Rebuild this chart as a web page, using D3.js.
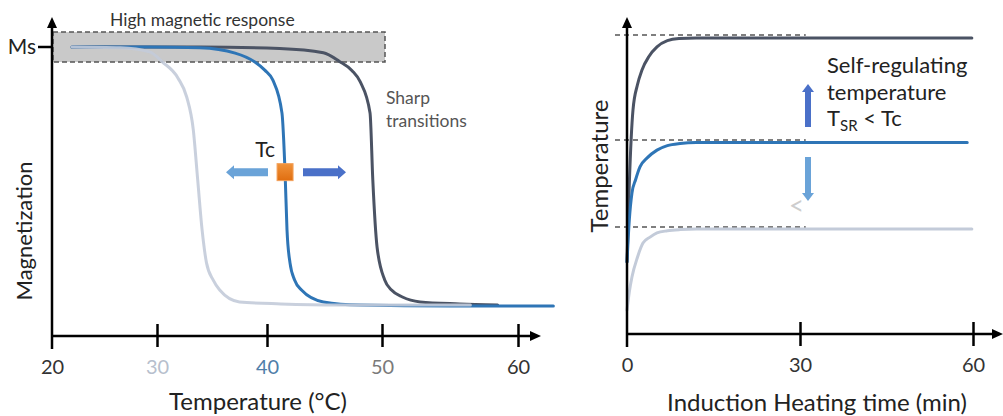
<!DOCTYPE html>
<html><head><meta charset="utf-8">
<script src="https://cdn.jsdelivr.net/npm/d3@7"></script>
<style>
html,body{margin:0;padding:0;background:#fff;}
svg text{font-family:Lato,"Open Sans",sans-serif;}
</style></head>
<body>
<svg id="c" width="1003" height="416"></svg>
<script>
// ---------- DATA ----------
const tempTicks = [20, 30, 40, 50, 60];
const timeTicks = [0, 30, 60];
// Magnetization (fraction of Ms) vs temperature (°C)
const magLow = [[21.9,1.000],[26.5,0.997],[29.3,0.983],[30.5,0.948],[31.9,0.893],[32.7,0.827],[33.3,0.713],[33.7,0.540],[34.1,0.367],[34.5,0.253],[35.1,0.194],[35.7,0.159],[37.5,0.118],[41.2,0.111],[46.3,0.107],[52.8,0.107],[56.5,0.107]];
const magMid = [[21.9,1.000],[29.3,1.000],[33.9,0.997],[37.1,0.979],[38.9,0.948],[39.8,0.920],[40.5,0.886],[41.3,0.772],[41.57,0.567],[41.74,0.367],[42.0,0.253],[42.4,0.194],[43.0,0.159],[44.9,0.118],[48.1,0.107],[55.0,0.104],[62.6,0.104]];
const magHigh = [[21.9,1.000],[33.9,1.000],[41.1,0.995],[44.9,0.980],[46.3,0.950],[47.4,0.918],[48.1,0.880],[48.96,0.772],[49.2,0.540],[49.57,0.308],[50.2,0.194],[50.7,0.159],[51.5,0.135],[52.8,0.118],[55.7,0.111],[58.5,0.107]];
const msLevel = 1.0;
const tcValue = [41.57, 0.567];
// Temperature (a.u.) vs induction heating time (min)
const heatHigh = [[0,24],[0.4,50],[1.04,74.7],[1.8,83],[2.6,88],[3.8,92.5],[5.2,95.7],[7,97.8],[9,98.5],[12,98.7],[59.8,98.7]];
const heatMid  = [[0,24],[0.4,38],[0.86,47],[1.5,51.5],[2.25,55.7],[3.5,58.7],[5.2,61.3],[7,62.8],[9.2,63.5],[12,63.8],[59,63.8]];
const heatLow  = [[0,8],[0.4,14],[0.86,19],[1.8,25.5],[2.77,30.3],[4,32.3],[5.2,33.7],[7,34.4],[9.2,34.8],[12,35],[59.8,35]];
const regLevels = [99.7, 64.7, 35.7];
const regLevelEnd = 31;

// ---------- STYLE ----------
const cLight = "#c3cbd9", cBlue = "#2e75b6", cDark = "#4b5364";
const tickColors = {20:"#333",30:"#b7bfcd",40:"#4f7ea9",50:"#7a7a7a",60:"#333"};

const svg = d3.select("#c");
const defs = svg.append("defs");
const gO = defs.append("linearGradient").attr("id","gO").attr("x1",0).attr("y1",0).attr("x2",0).attr("y2",1);
gO.append("stop").attr("offset",0).attr("stop-color","#f0923a");
gO.append("stop").attr("offset",1).attr("stop-color","#e06e10");

// ---------- LEFT CHART ----------
const xL = d3.scaleLinear().domain(tempTicks).range([52,157,267,382,518]);
const yL = d3.scaleLinear().domain([0,1]).range([336,47]);

svg.append("rect").attr("x",xL(20)+1).attr("y",32).attr("width",xL(50)+2-xL(20)).attr("height",30)
  .attr("fill","#c9c9c9").attr("stroke","#555").attr("stroke-width",1.5).attr("stroke-dasharray","5,3");
svg.append("text").attr("x",110).attr("y",26).attr("font-size",17.5).attr("fill","#333").text("High magnetic response");

const lineL = d3.line().x(d=>xL(d[0])).y(d=>yL(d[1])).curve(d3.curveMonotoneX);
[[magHigh,cDark,1],[magMid,cBlue,1],[magLow,cLight,0.9]].forEach(([d,c,o])=>{
  svg.append("path").datum(d).attr("d",lineL).attr("fill","none").attr("stroke",c)
    .attr("stroke-width",3).attr("stroke-opacity",o).attr("stroke-linecap","round");
});

const axL = svg.append("g").attr("transform",`translate(0,${yL(0)})`)
  .call(d3.axisBottom(xL).tickValues(tempTicks).tickSize(0).tickPadding(24));
axL.select(".domain").remove();
axL.selectAll(".tick text").attr("font-size",20).attr("font-family","Lato").attr("fill",d=>tickColors[d]);
axL.selectAll(".tick").filter(d=>d!==20).append("line").attr("y1",-12).attr("y2",11).attr("stroke","#000").attr("stroke-width",2.5);
svg.append("line").attr("x1",xL(20)).attr("x2",532).attr("y1",yL(0)).attr("y2",yL(0)).attr("stroke","#000").attr("stroke-width",2.5);
svg.append("path").attr("d",`M541,${yL(0)} L530,${yL(0)-5} L530,${yL(0)+5}Z`).attr("fill","#000");
svg.append("line").attr("x1",xL(20)).attr("x2",xL(20)).attr("y1",349).attr("y2",26).attr("stroke","#000").attr("stroke-width",2.5);
svg.append("path").attr("d",`M${xL(20)},17 L${xL(20)-5},28 L${xL(20)+5},28Z`).attr("fill","#000");
svg.append("line").attr("x1",xL(20)-14).attr("x2",xL(20)).attr("y1",yL(msLevel)).attr("y2",yL(msLevel)).attr("stroke","#000").attr("stroke-width",2.5);
svg.append("text").attr("x",36).attr("y",yL(msLevel)+7).attr("text-anchor","end").attr("font-size",21).attr("fill","#222").text("Ms");

svg.append("text").attr("transform",`translate(32,${231}) rotate(-90)`).attr("text-anchor","middle").attr("font-size",22).attr("fill","#222").text("Magnetization");
svg.append("text").attr("x",258).attr("y",410).attr("text-anchor","middle").attr("font-size",24).attr("fill","#222").text("Temperature (°C)");

svg.append("text").attr("x",386).attr("y",104).attr("font-size",17.5).attr("fill","#555").text("Sharp");
svg.append("text").attr("x",386).attr("y",127).attr("font-size",17.5).attr("fill","#555").text("transitions");

const tcx = xL(tcValue[0]), tcy = yL(tcValue[1]);
svg.append("text").attr("x",tcx-10).attr("y",tcy-15).attr("text-anchor","end").attr("font-size",21).attr("fill","#222").text("Tc");
function hArrow(x0,x1,y,color){
  const dir = Math.sign(x1-x0), hl=8, bw=4, hw=7;
  const xb = x1-dir*hl;
  svg.append("path").attr("d",`M${x0},${y-bw} L${xb},${y-bw} L${xb},${y-hw} L${x1},${y} L${xb},${y+hw} L${xb},${y+bw} L${x0},${y+bw}Z`).attr("fill",color);
}
hArrow(268,226,tcy,"#6aa3d8");
hArrow(303,346,tcy,"#4a70c8");
svg.append("rect").attr("x",tcx-8).attr("y",tcy-8.5).attr("width",16).attr("height",17).attr("fill","url(#gO)").attr("stroke","#f3a25c").attr("stroke-width",1);

// ---------- RIGHT CHART ----------
const xR = d3.scaleLinear().domain([0,60]).range([627,973]);
const yR = d3.scaleLinear().domain([0,100]).range([334,34]);

regLevels.forEach(v=>{
  svg.append("line").attr("x1",615).attr("x2",xR(regLevelEnd)).attr("y1",yR(v)).attr("y2",yR(v))
    .attr("stroke","#555").attr("stroke-width",1.5).attr("stroke-dasharray","5,4");
});
const lineR = d3.line().x(d=>xR(d[0])).y(d=>yR(d[1])).curve(d3.curveMonotoneX);
[[heatLow,cLight],[heatHigh,cDark],[heatMid,cBlue]].forEach(([d,c])=>{
  svg.append("path").datum(d).attr("d",lineR).attr("fill","none").attr("stroke",c).attr("stroke-width",3).attr("stroke-linecap","round");
});

const axR = svg.append("g").attr("transform",`translate(0,${yR(0)})`)
  .call(d3.axisBottom(xR).tickValues(timeTicks).tickSize(0).tickPadding(24));
axR.select(".domain").remove();
axR.selectAll(".tick text").attr("font-size",20).attr("font-family","Lato").attr("fill","#333");
axR.selectAll(".tick").filter(d=>d!==0).append("line").attr("y1",-12).attr("y2",12).attr("stroke","#000").attr("stroke-width",2.5);
svg.append("line").attr("x1",xR(0)).attr("x2",995).attr("y1",yR(0)).attr("y2",yR(0)).attr("stroke","#000").attr("stroke-width",2.5);
svg.append("path").attr("d",`M1003,${yR(0)} L992,${yR(0)-5} L992,${yR(0)+5}Z`).attr("fill","#000");
svg.append("line").attr("x1",xR(0)).attr("x2",xR(0)).attr("y1",347).attr("y2",27).attr("stroke","#000").attr("stroke-width",2.5);
svg.append("path").attr("d",`M${xR(0)},17 L${xR(0)-5},28 L${xR(0)+5},28Z`).attr("fill","#000");

svg.append("text").attr("transform",`translate(608,${166}) rotate(-90)`).attr("text-anchor","middle").attr("font-size",24).attr("fill","#222").text("Temperature");
svg.append("text").attr("x",817).attr("y",411).attr("text-anchor","middle").attr("font-size",24).attr("fill","#222").text("Induction Heating time (min)");

const st = svg.append("text").attr("font-size",22).attr("fill","#222");
st.append("tspan").attr("x",827).attr("y",73).text("Self-regulating");
st.append("tspan").attr("x",827).attr("y",100).text("temperature");
st.append("tspan").attr("x",827).attr("y",126).text("T");
st.append("tspan").attr("dy",5).attr("font-size",15).text("SR");
st.append("tspan").attr("dy",-5).text(" < Tc");

function vArrow(x,y0,y1,color){
  const dir = Math.sign(y1-y0), hl=8, bw=3, hw=6;
  const yb = y1-dir*hl;
  svg.append("path").attr("d",`M${x-bw},${y0} L${x-bw},${yb} L${x-hw},${yb} L${x},${y1} L${x+hw},${yb} L${x+bw},${yb} L${x+bw},${y0}Z`).attr("fill",color);
}
vArrow(808,127,84,"#4a70c8");
vArrow(808,157,201,"#6aa3d8");
svg.append("text").attr("x",789).attr("y",215).attr("font-size",26).attr("fill","#cdcdcd").text("<");
</script>
</body></html>
